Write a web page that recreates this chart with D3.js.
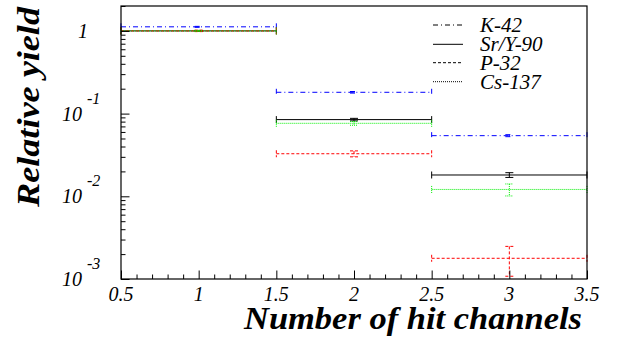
<!DOCTYPE html>
<html>
<head>
<meta charset="utf-8">
<script src="https://cdn.jsdelivr.net/npm/d3@7"></script>
</head>
<body style="margin:0">
<svg id="chart" width="617" height="343" font-family="Liberation Serif" font-style="italic"></svg>
<script>
// Bin centres (number of hit channels); each bin is one unit wide
const binCenters = [1, 2, 3];
const binHalfWidth = 0.5;

// Relative yields per isotope, with statistical errors
const k42      = [1.12, 0.181, 0.0541];
const k42Err   = [0.015, 0.004, 0.0015];
const srY90    = [1.0, 0.0846, 0.0181];
const srY90Err = [0.012, 0.003, 0.0012];
const p32      = [1.0, 0.0327, 0.00178];
const p32Err   = [0.02, 0.0027, 0.0007];
const cs137    = [1.0, 0.0763, 0.0121];
const cs137Err = [0.015, 0.004, 0.002];

// Axis ticks
const xMajorTicks = [0.5, 1, 1.5, 2, 2.5, 3, 3.5];
const xTickLabels = ["0.5", "1", "1.5", "2", "2.5", "3", "3.5"];
const yMajorTicks = [1e-3, 1e-2, 1e-1, 1];
const yTickExponents = [-3, -2, -1, 0];

const seriesNames = ["K-42", "Sr/Y-90", "P-32", "Cs-137"];

const series = [
  { name: seriesNames[0], values: k42,   errors: k42Err,   color: "#0000ff", dash: "5,3,1,3" },
  { name: seriesNames[1], values: srY90, errors: srY90Err, color: "#000000", dash: null },
  { name: seriesNames[2], values: p32,   errors: p32Err,   color: "#ff0000", dash: "3,2" },
  { name: seriesNames[3], values: cs137, errors: cs137Err, color: "#00ee00", dash: "1,1" }
];

const frame = { left: 121, right: 587, top: 6, bottom: 279 };

const svg = d3.select("#chart");

const x = d3.scaleLinear().domain([0.5, 3.5]).range([frame.left, frame.right]);
const y = d3.scaleLog().domain([1e-3, 2]).range([frame.bottom, frame.top]);

// Minor ticks
const xMinorTicks = d3.range(5, 36).map(v => v / 10).filter(v => !xMajorTicks.some(m => Math.abs(m - v) < 1e-9));
const yMinorTicks = [];
[-3, -2, -1, 0].forEach(e => {
  for (let k = 2; k <= 9; k++) {
    const v = k * Math.pow(10, e);
    if (v <= 2) yMinorTicks.push(v);
  }
});

// Every text in Times-style italic
function addText(parent, str, size, opts = {}) {
  const t = parent.append("text")
    .attr("font-family", "Liberation Serif")
    .attr("font-style", "italic")
    .attr("font-size", size)
    .attr("fill", "#000")
    .text(str);
  if (opts.bold) t.attr("font-weight", "bold");
  if (opts.length) t.attr("textLength", opts.length).attr("lengthAdjust", "spacingAndGlyphs");
  return t;
}

// Histograms: horizontal bin-width bars, vertical error bars, end markers
const plot = svg.append("g");
const endSize = 3.5;

series.forEach(s => {
  const g = plot.append("g")
    .attr("stroke", s.color)
    .attr("stroke-width", 1)
    .attr("fill", "none");

  binCenters.forEach((c, i) => {
    const v = s.values[i], e = s.errors[i];
    const yv = y(v);
    const x0 = x(c - binHalfWidth), x1 = x(c + binHalfWidth), xc = x(c);

    // bin-width bar
    g.append("line")
      .attr("x1", x0).attr("x2", x1).attr("y1", yv).attr("y2", yv)
      .attr("stroke-dasharray", s.dash);
    // markers at the bin edges
    [x0, x1].forEach(xe => {
      g.append("line")
        .attr("x1", xe).attr("x2", xe)
        .attr("y1", yv - endSize).attr("y2", yv + endSize)
        .attr("stroke-dasharray", s.dash);
    });
    // vertical error bar
    const yHi = y(v + e), yLo = y(Math.max(v - e, 1e-4));
    g.append("line")
      .attr("x1", xc).attr("x2", xc).attr("y1", yHi).attr("y2", yLo)
      .attr("stroke-dasharray", s.dash);
    [yHi, yLo].forEach(ye => {
      g.append("line")
        .attr("x1", xc - endSize - 0.5).attr("x2", xc + endSize + 0.5)
        .attr("y1", ye).attr("y2", ye)
        .attr("stroke-dasharray", s.dash);
    });
  });
});

// Frame
svg.append("rect")
  .attr("x", frame.left).attr("y", frame.top)
  .attr("width", frame.right - frame.left).attr("height", frame.bottom - frame.top)
  .attr("fill", "none").attr("stroke", "#000").attr("stroke-width", 1.2);

// X axis ticks (drawn inward)
const xAxisG = svg.append("g").attr("transform", `translate(0,${frame.bottom})`);
xAxisG.call(d3.axisBottom(x).tickValues(xMajorTicks).tickSize(-8.5).tickFormat(""));
xAxisG.call(g => g.select(".domain").remove());
const xMinorG = svg.append("g").attr("transform", `translate(0,${frame.bottom})`);
xMinorG.call(d3.axisBottom(x).tickValues(xMinorTicks).tickSize(-4.5).tickFormat(""));
xMinorG.call(g => g.select(".domain").remove());

// Y axis ticks (drawn inward)
const yAxisG = svg.append("g").attr("transform", `translate(${frame.left},0)`);
yAxisG.call(d3.axisLeft(y).tickValues(yMajorTicks).tickSize(-8.5).tickFormat(""));
yAxisG.call(g => g.select(".domain").remove());
const yMinorG = svg.append("g").attr("transform", `translate(${frame.left},0)`);
yMinorG.call(d3.axisLeft(y).tickValues(yMinorTicks).tickSize(-4.5).tickFormat(""));
yMinorG.call(g => g.select(".domain").remove());

svg.selectAll(".tick line").attr("stroke", "#000").attr("stroke-width", 1);
// d3 axes put their own font on the axis group; labels are drawn separately
svg.selectAll(".tick text").remove();

// X tick labels
const xLab = svg.append("g");
xMajorTicks.forEach((v, i) => {
  addText(xLab, xTickLabels[i], 20)
    .attr("x", x(v)).attr("y", 301)
    .attr("text-anchor", "middle");
});

// Y tick labels: "1" and powers of ten
const yLab = svg.append("g");
yMajorTicks.forEach((v, i) => {
  const e = yTickExponents[i];
  const yt = y(v);
  if (e === 0) {
    addText(yLab, "1", 20).attr("x", 83).attr("y", yt + 7).attr("text-anchor", "middle");
  } else {
    addText(yLab, "10", 20).attr("x", 82).attr("y", yt + 7).attr("text-anchor", "end");
    addText(yLab, String(e), 16).attr("x", 87).attr("y", yt - 10).attr("text-anchor", "start");
  }
});

// Axis titles
addText(svg, "Number of hit channels", 32, { bold: true, length: 338 })
  .attr("x", 244).attr("y", 329);

addText(svg, "Relative yield", 32, { bold: true, length: 200 })
  .attr("transform", "translate(39,207) rotate(-90)");

// Legend
const legendRows = [25, 44.3, 62.7, 81.7];
const legend = svg.append("g");
series.forEach((s, i) => {
  const ly = legendRows[i];
  legend.append("line")
    .attr("x1", 433).attr("x2", 463)
    .attr("y1", ly).attr("y2", ly)
    .attr("stroke", "#000").attr("stroke-width", 1)
    .attr("stroke-dasharray", s.dash);
  addText(legend, s.name, 21).attr("x", 480).attr("y", ly + 7);
});
</script>
</body>
</html>
